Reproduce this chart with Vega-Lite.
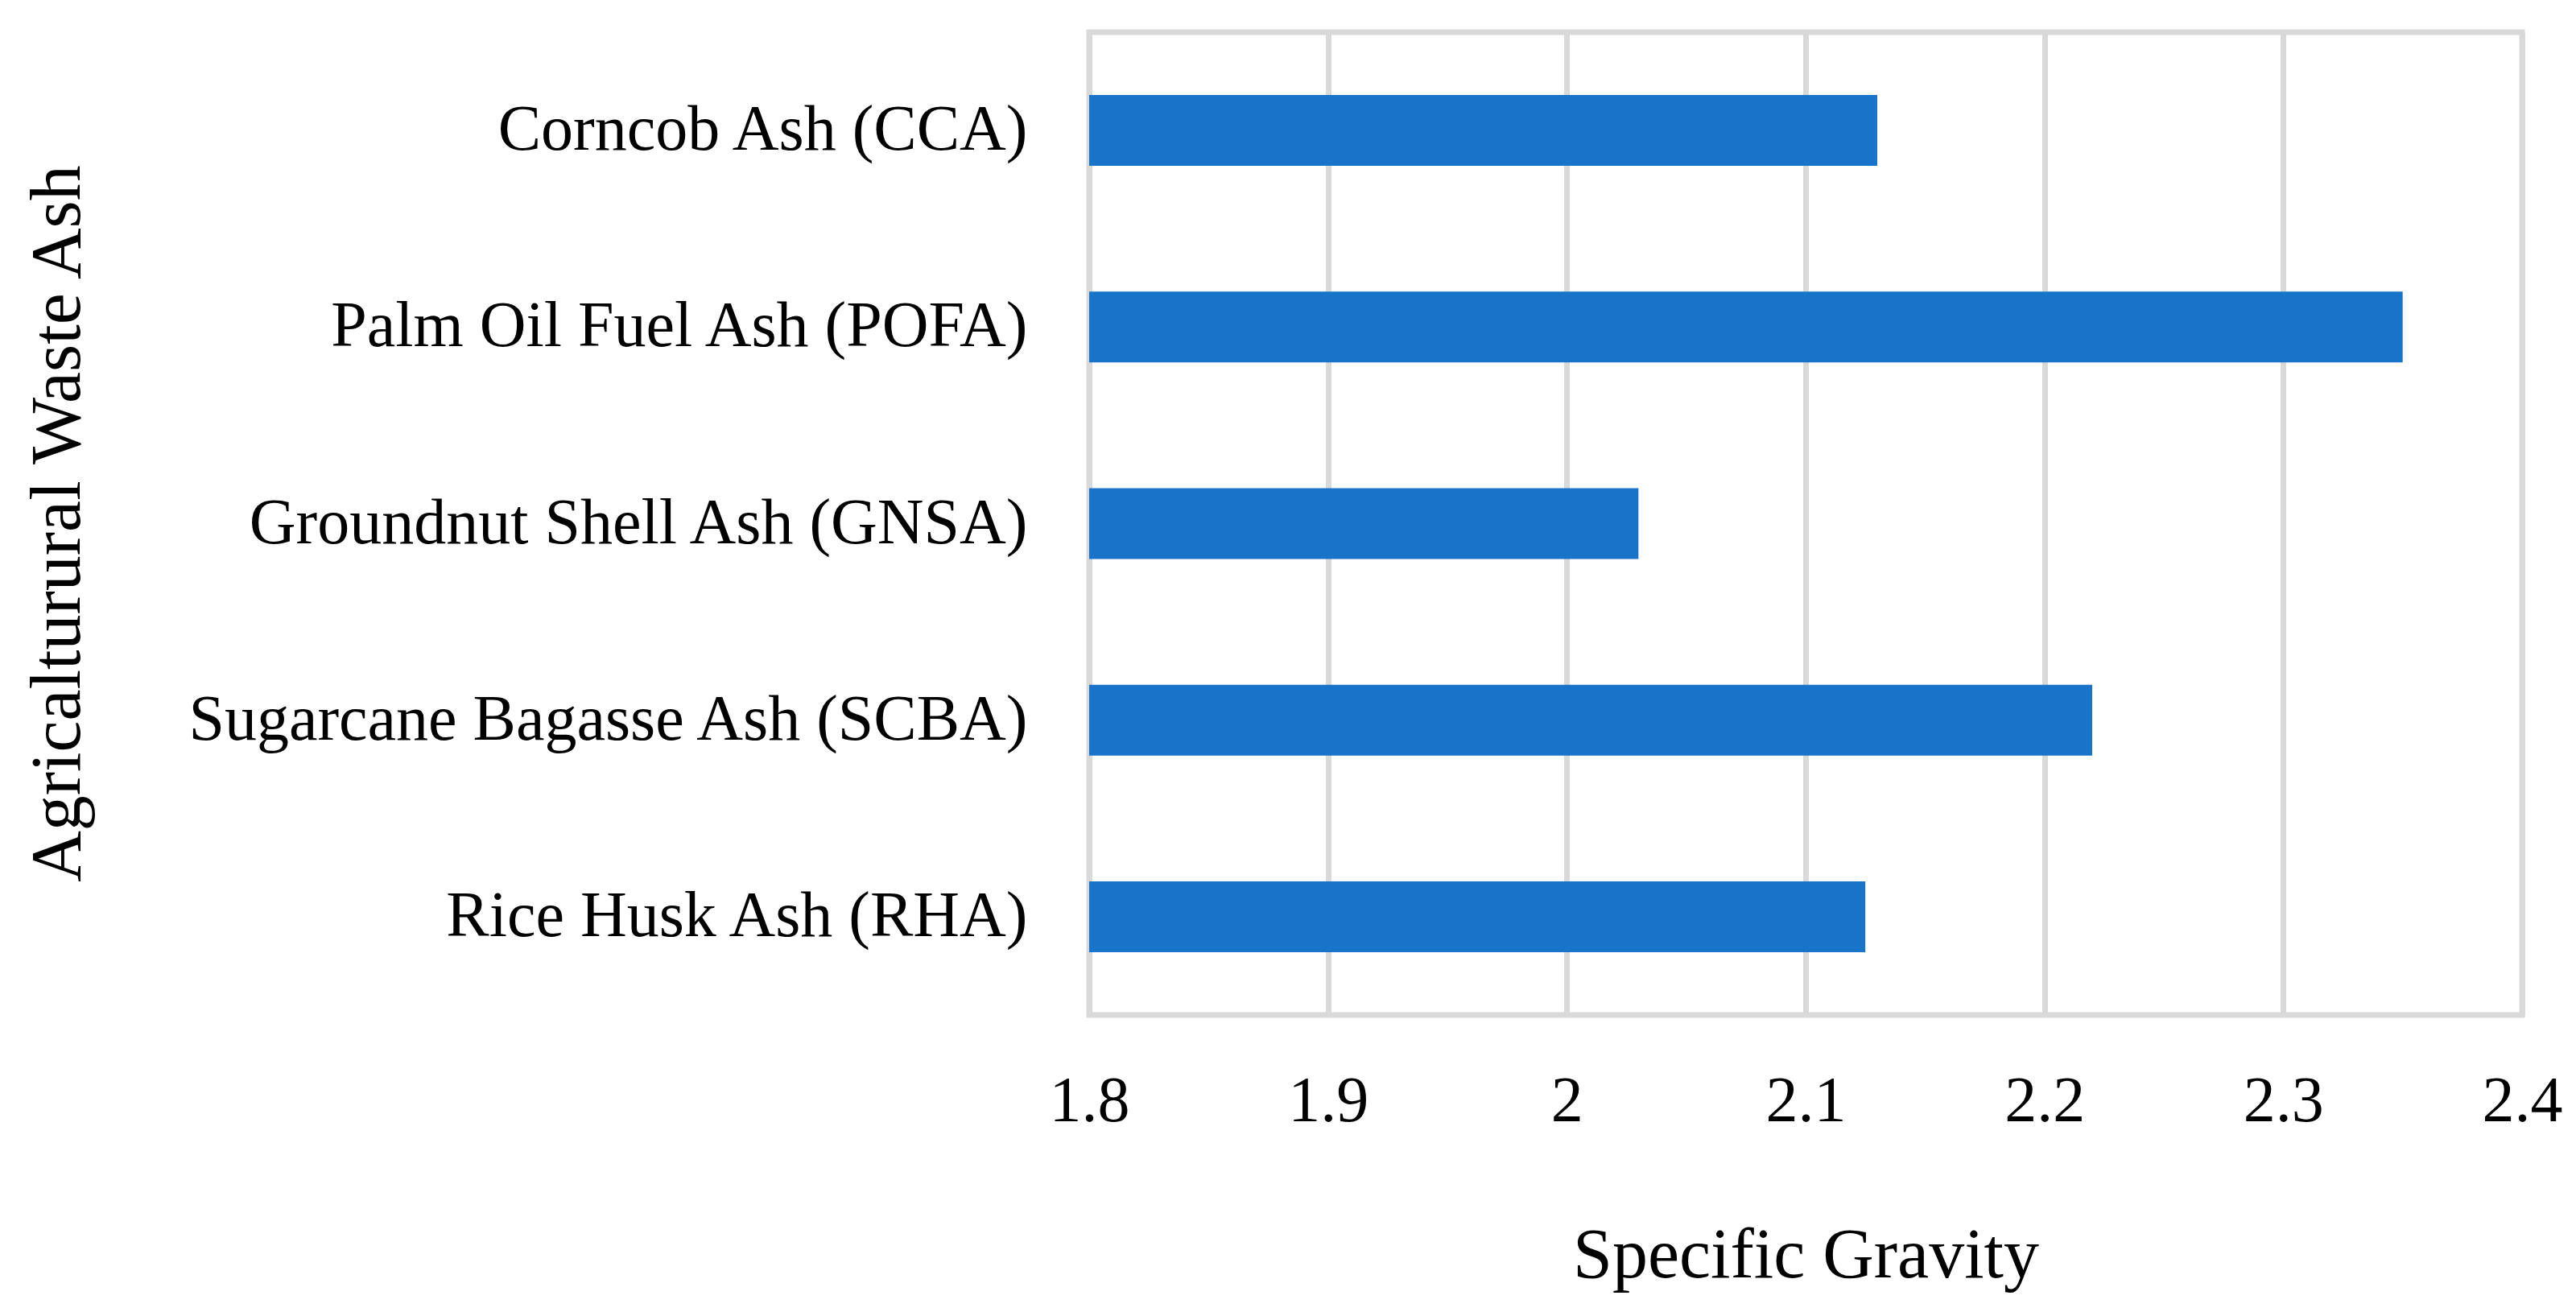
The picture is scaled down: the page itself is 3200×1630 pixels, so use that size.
{
  "$schema": "https://vega.github.io/schema/vega-lite/v6.json",
  "width": 1780,
  "height": 1221,
  "autosize": {"type": "none"},
  "padding": {"left": 1353, "top": 40, "right": 67, "bottom": 369},
  "background": "white",
  "data": {
    "values": [
      {"ash": "Corncob Ash (CCA)", "sg": 2.13},
      {"ash": "Palm Oil Fuel Ash (POFA)", "sg": 2.35},
      {"ash": "Groundnut Shell Ash (GNSA)", "sg": 2.03},
      {"ash": "Sugarcane Bagasse Ash (SCBA)", "sg": 2.22},
      {"ash": "Rice Husk Ash (RHA)", "sg": 2.125}
    ]
  },
  "mark": {"type": "bar", "color": "#1874C9", "size": 88},
  "encoding": {
    "y": {
      "field": "ash",
      "type": "nominal",
      "sort": null,
      "scale": {"paddingInner": 0, "paddingOuter": 0},
      "axis": {
        "title": "Agricalturural Waste Ash",
        "titleAngle": -90,
        "titleBaseline": "alphabetic",
        "titleAlign": "center",
        "titleX": -1255,
        "titleY": 610,
        "titleFontSize": 88,
        "labelFontSize": 80,
        "labelPadding": 77,
        "labelLimit": 2000,
        "ticks": false,
        "domain": false,
        "grid": false
      }
    },
    "x": {
      "field": "sg",
      "type": "quantitative",
      "scale": {"domain": [1.8, 2.4], "zero": false, "nice": false},
      "axis": {
        "title": "Specific Gravity",
        "values": [1.8, 1.9, 2.0, 2.1, 2.2, 2.3, 2.4],
        "format": "~g",
        "labelFontSize": 80,
        "labelBaseline": "alphabetic",
        "labelPadding": 131,
        "labelFlush": false,
        "labelOverlap": false,
        "titleFontSize": 88,
        "titleBaseline": "alphabetic",
        "titleY": 325,
        "ticks": false,
        "domain": false,
        "grid": true,
        "gridColor": "#D9D9D9",
        "gridWidth": 7,
        "gridOpacity": 1
      }
    },
    "x2": {"datum": 1.8}
  },
  "config": {
    "font": "Liberation Serif",
    "axis": {
      "labelFont": "Liberation Serif",
      "titleFont": "Liberation Serif",
      "labelColor": "#000000",
      "titleColor": "#000000",
      "titleFontWeight": "normal"
    },
    "view": {"stroke": "#D9D9D9", "strokeWidth": 7}
  }
}
